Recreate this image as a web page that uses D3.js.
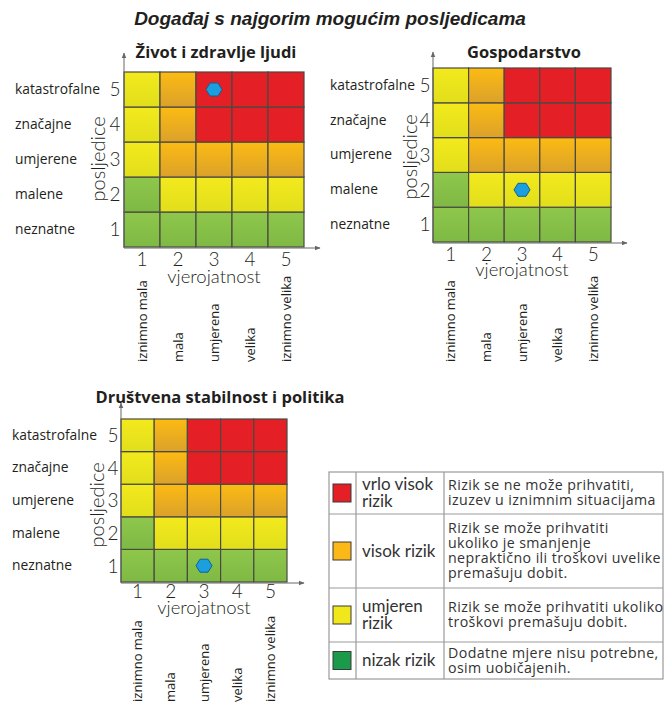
<!DOCTYPE html>
<html>
<head>
<meta charset="utf-8">
<script src="https://cdn.jsdelivr.net/npm/d3@7"></script>
<style>
  body { margin: 0; background: #fff; }
  text { fill: #231f20; }
</style>
</head>
<body>
<script>
// ---------------- DATA ----------------
const mainTitle = "Događaj s najgorim mogućim posljedicama";
const chartTitles = ["Život i zdravlje ljudi", "Gospodarstvo", "Društvena stabilnost i politika"];
const probLevels = [1, 2, 3, 4, 5];
const probLabels = ["iznimno mala", "mala", "umjerena", "velika", "iznimno velika"];
const consLevels = [1, 2, 3, 4, 5];
const consLabels = ["neznatne", "malene", "umjerene", "značajne", "katastrofalne"];
// risk class per consequence row (1..5) and probability column (1..5)
// 0 = nizak, 1 = umjeren, 2 = visok, 3 = vrlo visok
const riskMatrix = [
  [0, 0, 0, 0, 0],
  [0, 1, 1, 1, 1],
  [1, 2, 2, 2, 2],
  [1, 2, 3, 3, 3],
  [1, 2, 3, 3, 3]
];
const eventProb = [3, 3, 3];
const eventCons = [5, 2, 1];
const riskNames = [["vrlo visok", "rizik"], ["visok rizik"], ["umjeren", "rizik"], ["nizak rizik"]];
const riskDescs = [
  ["Rizik se ne može prihvatiti,", "izuzev u iznimnim situacijama"],
  ["Rizik se može prihvatiti", "ukoliko je smanjenje", "nepraktično ili troškovi uvelike", "premašuju dobit."],
  ["Rizik se može prihvatiti ukoliko", "troškovi premašuju dobit."],
  ["Dodatne mjere nisu potrebne,", "osim uobičajenih."]
];
const legendOrder = [3, 2, 1, 0];

// ---------------- STYLE ----------------
const cellFill = ["url(#gGreen)", "url(#gYellow)", "url(#gOrange)", "#e41f26"];
const swatchFill = ["#1b9a4a", "#f1e81c", "#fbb816", "#e41f26"];
const font = "'Open Sans', Lato, sans-serif";
const fontB = "Lato, 'Open Sans', sans-serif";

const W = 670, H = 704;
const svg = d3.select("body").append("svg")
  .attr("width", W).attr("height", H)
  .style("font-family", font);

const defs = svg.append("defs");
function grad(id, c1, c2) {
  const g = defs.append("linearGradient").attr("id", id)
    .attr("x1", 0).attr("y1", 0).attr("x2", 0).attr("y2", 1);
  g.append("stop").attr("offset", "0%").attr("stop-color", c1);
  g.append("stop").attr("offset", "100%").attr("stop-color", c2);
}
grad("gGreen", "#8fc74c", "#7eb944");
grad("gYellow", "#f3ea1d", "#e1de1b");
grad("gOrange", "#fcbb12", "#dba12b");
defs.append("marker").attr("id", "arrow")
  .attr("viewBox", "0 0 10 10").attr("refX", 9).attr("refY", 5)
  .attr("markerWidth", 6).attr("markerHeight", 6).attr("orient", "auto")
  .append("path").attr("d", "M0,1 L10,5 L0,9 Z").attr("fill", "#666");

svg.append("text")
  .attr("x", 330).attr("y", 25)
  .attr("text-anchor", "middle")
  .style("font-family", "'Liberation Sans', Arial, sans-serif")
  .style("font-weight", "bold").style("font-style", "italic")
  .style("font-size", "19px")
  .text(mainTitle);

// layout of the three matrices
const layouts = [
  { x0: 124, x1: 304, y0: 72, y1: 247, top: 53, right: 320, rowX: 15, numX: 115, posX: 98, posY: 159,
    tickY: 259, vjerY: 277, catY: 362, titleX: 216, titleY: 58 },
  { x0: 433, x1: 611, y0: 68, y1: 242, top: 52, right: 627, rowX: 330, numX: 425, posX: 410, posY: 157,
    tickY: 254, vjerY: 270, catY: 362, titleX: 524, titleY: 58 },
  { x0: 121, x1: 287, y0: 419, y1: 582, top: 403, right: 304, rowX: 12, numX: 113, posX: 97, posY: 505,
    tickY: 591, vjerY: 608, catY: 702, titleX: 220, titleY: 403 }
];

layouts.forEach(function (L, ci) {
  const g = svg.append("g");
  const x = d3.scaleBand().domain(probLevels).range([L.x0, L.x1]);
  const y = d3.scaleBand().domain(consLevels).range([L.y1, L.y0]);

  const cells = [];
  consLevels.forEach(function (c, i) {
    probLevels.forEach(function (p, j) {
      cells.push({ p: p, c: c, r: riskMatrix[i][j] });
    });
  });

  g.selectAll("rect.cell").data(cells).enter().append("rect")
    .attr("class", "cell")
    .attr("x", d => x(d.p)).attr("y", d => y(d.c))
    .attr("width", x.bandwidth()).attr("height", y.bandwidth())
    .attr("fill", d => cellFill[d.r])
    .attr("stroke", "#4a4a42").attr("stroke-width", 1.2);

  // axis arrows
  g.append("line")
    .attr("x1", L.x0).attr("y1", L.y1 + 1).attr("x2", L.x0).attr("y2", L.top)
    .attr("stroke", "#666").attr("stroke-width", 1).attr("marker-end", "url(#arrow)");
  g.append("line")
    .attr("x1", L.x0).attr("y1", L.y1 + 1).attr("x2", L.right).attr("y2", L.y1 + 1)
    .attr("stroke", "#666").attr("stroke-width", 1).attr("marker-end", "url(#arrow)");

  // title
  g.append("text")
    .attr("x", L.titleX).attr("y", L.titleY)
    .attr("text-anchor", "middle")
    .style("font-weight", "bold").style("font-size", "16.5px")
    .text(chartTitles[ci]);

  // y numbers
  g.selectAll("text.ynum").data(consLevels).enter().append("text")
    .attr("class", "ynum")
    .attr("x", L.numX).attr("y", d => y(d) + y.bandwidth() / 2)
    .attr("dy", "0.36em").attr("text-anchor", "middle")
    .style("font-family", fontB)
    .style("font-size", "19px").style("font-weight", 300)
    .text(d => d);

  // y labels
  g.selectAll("text.ylab").data(consLevels).enter().append("text")
    .attr("class", "ylab")
    .attr("x", L.rowX).attr("y", d => y(d) + y.bandwidth() / 2)
    .attr("dy", "0.32em")
    .style("font-size", "13.8px")
    .text((d, i) => consLabels[i]);

  g.append("text")
    .attr("transform", "translate(" + L.posX + "," + L.posY + ") rotate(-90)")
    .attr("dy", "0.35em").attr("text-anchor", "middle")
    .style("font-family", fontB)
    .style("font-size", "20px").style("font-weight", 300)
    .text("posljedice");

  // x numbers
  g.selectAll("text.xnum").data(probLevels).enter().append("text")
    .attr("class", "xnum")
    .attr("x", d => x(d) + x.bandwidth() / 2).attr("y", L.tickY)
    .attr("dy", "0.36em").attr("text-anchor", "middle")
    .style("font-family", fontB)
    .style("font-size", "19px").style("font-weight", 300)
    .text(d => d);

  g.append("text")
    .attr("x", (L.x0 + L.x1) / 2).attr("y", L.vjerY)
    .attr("dy", "0.35em").attr("text-anchor", "middle")
    .style("font-family", fontB)
    .style("font-size", "18.5px").style("font-weight", 300)
    .text("vjerojatnost");

  // category labels (vertical)
  g.selectAll("text.xlab").data(probLevels).enter().append("text")
    .attr("class", "xlab")
    .attr("transform", d => "translate(" + (x(d) + x.bandwidth() / 2) + "," + L.catY + ") rotate(-90)")
    .attr("dy", "0.35em")
    .style("font-size", "13px")
    .text((d, i) => probLabels[i]);

  // event marker (hexagon)
  const cx = x(eventProb[ci]) + x.bandwidth() / 2;
  const cy = y(eventCons[ci]) + y.bandwidth() / 2;
  const hex = d3.range(6).map(k => {
    const a = Math.PI / 3 * k;
    return [cx + 8 * Math.cos(a), cy + 7.5 * Math.sin(a)];
  });
  g.append("path")
    .attr("d", "M" + hex.join("L") + "Z")
    .attr("fill", "#1b9fde").attr("stroke", "#145f96").attr("stroke-width", 1);
});

// ---------------- LEGEND ----------------
const lg = svg.append("g");
const colX = [329, 356, 444, 663];
const rowY = [472, 514, 588, 642, 679];
lg.append("rect")
  .attr("x", colX[0]).attr("y", rowY[0])
  .attr("width", colX[3] - colX[0]).attr("height", rowY[4] - rowY[0])
  .attr("fill", "none").attr("stroke", "#9a9a9a").attr("stroke-width", 1.2);
[1, 2].forEach(k => lg.append("line")
  .attr("x1", colX[k]).attr("x2", colX[k]).attr("y1", rowY[0]).attr("y2", rowY[4])
  .attr("stroke", "#9a9a9a").attr("stroke-width", 1.2));
[1, 2, 3].forEach(k => lg.append("line")
  .attr("x1", colX[0]).attr("x2", colX[3]).attr("y1", rowY[k]).attr("y2", rowY[k])
  .attr("stroke", "#9a9a9a").attr("stroke-width", 1.2));

legendOrder.forEach(function (r, i) {
  const mid = (rowY[i] + rowY[i + 1]) / 2;
  lg.append("rect")
    .attr("x", 333).attr("y", mid - 9).attr("width", 18).attr("height", 18)
    .attr("fill", swatchFill[r]).attr("stroke", "#3a3a3a").attr("stroke-width", 1);
  const names = riskNames[i];
  names.forEach(function (t, k) {
    lg.append("text")
      .attr("x", 362).attr("y", mid + (k - (names.length - 1) / 2) * 17)
      .attr("dy", "0.35em")
      .style("font-family", fontB)
      .style("font-size", "17px").style("fill", "#333")
      .text(t);
  });
  const desc = riskDescs[i];
  desc.forEach(function (t, k) {
    lg.append("text")
      .attr("x", 448).attr("y", mid + (k - (desc.length - 1) / 2) * 15)
      .attr("dy", "0.35em")
      .style("font-size", "14.2px").style("letter-spacing", "0.4px").style("fill", "#333")
      .text(t);
  });
});
</script>
</body>
</html>
